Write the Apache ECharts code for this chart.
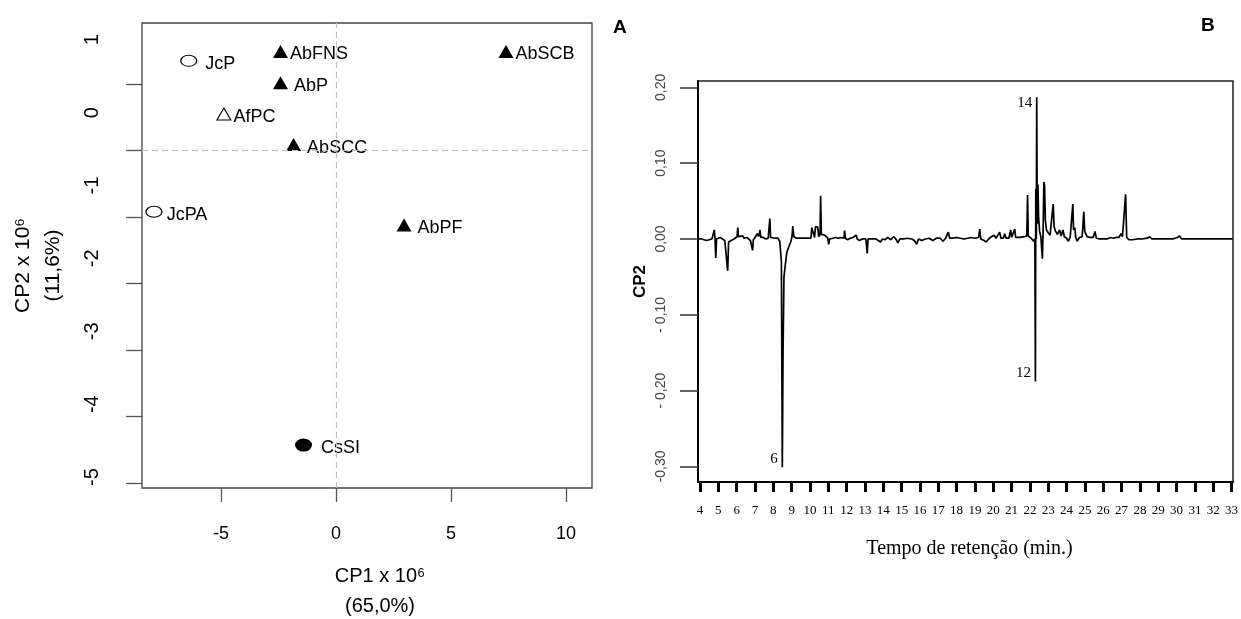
<!DOCTYPE html>
<html>
<head>
<meta charset="utf-8">
<script src="https://cdn.jsdelivr.net/npm/echarts@6/dist/echarts.min.js"></script>
<style>html,body{margin:0;padding:0;background:#fff}#c{width:1241px;height:619px}</style>
</head>
<body>
<div id="c"></div>
<script>
// ---------- Panel A : PCA scores ----------
const filledTriNames = ['AbFNS', 'AbSCB', 'AbP', 'AbSCC', 'AbPF'];
const filledTriCP1 = [-2.41, 7.39, -2.41, -1.84, 2.96];
const filledTriCP2 = [1.49, 1.49, 1.02, 0.09, -1.12];
const openTriNames = ['AfPC'];
const openTriCP1 = [-4.87];
const openTriCP2 = [0.55];
const openEllNames = ['JcP', 'JcPA'];
const openEllCP1 = [-6.40, -7.91];
const openEllCP2 = [1.35, -0.92];
const filledEllNames = ['CsSI'];
const filledEllCP1 = [-1.41];
const filledEllCP2 = [-4.43];
const xTicksA = [-5, 0, 5, 10];
const yTicksA = [1, 0, -1, -2, -3, -4, -5];

// ---------- Panel B : CP2 loadings vs retention time ----------
const retTime = [3.90,4.10,4.20,4.35,4.50,4.65,4.74,4.78,4.82,4.86,4.90,5.00,5.10,5.20,5.35,5.45,5.51,5.56,5.70,5.85,
5.95,6.02,6.06,6.10,6.20,6.33,6.40,6.55,6.65,6.75,6.84,6.87,6.91,7.00,7.12,7.20,7.27,7.32,7.45,7.60,
7.72,7.78,7.81,7.85,7.95,8.10,8.25,8.35,8.44,8.49,8.53,8.58,8.66,8.74,8.85,8.95,9.02,9.06,9.12,9.25,
9.50,9.80,10.05,10.10,10.20,10.25,10.30,10.42,10.48,10.55,10.58,10.62,10.70,10.80,10.90,10.97,11.02,11.07,11.25,11.40,
11.55,11.70,11.85,11.89,11.93,12.05,12.20,12.35,12.52,12.58,12.70,12.85,13.05,13.12,13.17,13.40,13.60,13.85,13.95,14.10,
14.25,14.40,14.58,14.68,14.80,14.90,15.10,15.30,15.55,15.70,15.82,15.92,16.10,16.30,16.50,16.70,16.90,17.10,17.26,17.40,
17.55,17.62,17.80,17.95,18.20,18.40,18.60,18.80,19.00,19.20,19.26,19.32,19.50,19.62,19.75,19.90,20.05,20.15,20.35,20.42,
20.55,20.62,20.70,20.85,20.95,21.00,21.10,21.17,21.22,21.45,21.70,21.83,21.87,21.91,22.00,22.10,22.20,22.27,22.30,22.32,
22.35,22.37,22.40,22.44,22.47,22.53,22.60,22.68,22.72,22.76,22.80,22.84,22.90,23.00,23.10,23.20,23.27,23.32,23.40,23.50,
23.62,23.70,23.80,23.88,24.00,24.10,24.20,24.30,24.34,24.38,24.45,24.50,24.58,24.70,24.85,24.94,24.99,25.05,25.12,25.30,
25.45,25.55,25.62,25.80,26.00,26.20,26.40,26.55,26.70,26.85,26.97,27.05,27.10,27.22,27.28,27.40,27.60,27.85,28.10,28.40,
28.53,28.65,29.00,29.40,29.80,30.05,30.16,30.28,30.60,31.00,31.50,32.00,32.50,33.06];
const cp2Loading = [0.000,0.000,-0.001,-0.002,-0.001,0.000,0.000,0.012,0.000,-0.025,0.000,0.000,0.002,0.000,-0.002,-0.003,-0.042,-0.004,-0.002,0.000,
0.002,0.003,0.015,0.003,0.002,0.004,0.001,0.002,0.000,-0.002,-0.002,-0.015,-0.001,0.002,0.007,0.003,0.012,0.002,0.002,0.000,
0.001,0.001,0.027,0.002,0.001,0.001,0.001,-0.003,-0.030,-0.301,-0.150,-0.050,-0.033,-0.017,-0.010,-0.004,0.003,0.017,0.003,0.001,
0.001,0.001,0.001,0.015,0.015,0.002,0.016,0.016,0.003,0.006,0.057,0.006,0.007,0.005,0.006,0.001,-0.007,0.000,0.001,0.002,
0.001,0.002,0.001,0.011,0.001,-0.001,0.001,0.002,0.005,0.000,-0.002,0.000,0.000,-0.019,0.000,0.000,0.000,-0.004,0.000,-0.001,
0.002,-0.001,0.003,0.000,-0.005,0.000,0.000,0.001,0.000,-0.002,-0.007,0.000,-0.002,0.000,0.001,-0.002,0.001,0.001,-0.003,0.001,
0.009,0.001,0.001,0.002,0.001,0.000,0.001,0.002,0.001,0.002,0.013,0.000,-0.002,-0.004,0.000,0.003,0.005,0.001,0.009,0.001,
0.001,0.007,0.001,0.001,0.012,0.002,0.002,0.013,0.002,0.002,0.003,0.004,0.058,0.004,0.003,0.000,-0.003,0.000,-0.188,0.066,
0.000,0.187,0.020,0.072,0.030,0.010,0.002,-0.026,0.010,0.075,0.070,0.025,0.012,0.008,0.005,0.004,0.046,0.016,0.010,0.006,
0.012,0.004,0.012,0.003,0.001,-0.003,0.003,0.004,0.046,0.012,0.015,0.002,-0.003,0.002,0.003,0.036,0.010,0.009,0.003,0.002,
0.002,0.010,0.001,0.000,0.000,0.000,0.002,0.001,0.002,0.002,0.007,0.003,0.004,0.059,0.002,-0.001,-0.001,0.000,0.000,0.001,
0.003,0.000,0.000,0.000,0.000,0.002,0.004,0.000,0.000,0.000,0.000,0.000,0.000,0.000];
const peakLabels = ['6', '12', '14'];
const peakTimes = [8.49, 22.30, 22.37];
const peakValues = [-0.301, -0.188, 0.187];
const xTicksB = [4,5,6,7,8,9,10,11,12,13,14,15,16,17,18,19,20,21,22,23,24,25,26,27,28,29,30,31,32,33];
const yTicksB = [-0.3, -0.2, -0.1, 0, 0.1, 0.2];
const yTickLabelsB = ['-0,30', '- 0,20', '- 0,10', '0,00', '0,10', '0,20'];

// ---------- chart ----------
const SANS = "'Liberation Sans', Arial, Helvetica, sans-serif";
const SERIF = "'Liberation Serif', 'Times New Roman', serif";
const zip = (a, b) => a.map((v, i) => [v, b[i]]);
const labelGap = {AbFNS: 2, AbSCB: 2, AfPC: 2, AbP: 6, AbSCC: 6, AbPF: 6, JcP: 8, JcPA: 4, CsSI: 9};

function scatterData(names, xs, ys) {
  return names.map((n, i) => ({
    name: n, value: [xs[i], ys[i]],
    label: {distance: labelGap[n] != null ? labelGap[n] : 4}
  }));
}
const ptLabel = {show: true, position: 'right', formatter: '{b}', color: '#000',
  fontFamily: SANS, fontSize: 18, offset: [0, 3]};

const chart = echarts.init(document.getElementById('c'), null, {renderer: 'canvas'});
chart.setOption({
  animation: false,
  backgroundColor: '#fff',
  title: [
    {text: 'A', left: 608, top: 13, textStyle: {fontFamily: SANS, fontWeight: 'bold', fontSize: 19, color: '#000'}},
    {text: 'B', left: 1196, top: 11, textStyle: {fontFamily: SANS, fontWeight: 'bold', fontSize: 19, color: '#000'}}
  ],
  grid: [
    {left: 142, top: 23, width: 450, height: 465, show: true, borderColor: '#444', borderWidth: 1.3,
      backgroundColor: 'transparent', containLabel: false, outerBoundsMode: 'none'},
    {left: 698, top: 81, width: 535, height: 401, show: true, borderColor: '#222', borderWidth: 1.5,
      backgroundColor: 'transparent', containLabel: false, outerBoundsMode: 'none'}
  ],
  xAxis: [
    {
      gridIndex: 0, type: 'value', min: -8.43, max: 11.13,
      axisLine: {show: false, onZero: false},
      axisTick: {show: true, customValues: xTicksA, length: 14, inside: false, lineStyle: {color: '#555', width: 1.3}},
      axisLabel: {customValues: xTicksA, fontFamily: SANS, fontSize: 18, color: '#000', margin: 37},
      splitLine: {show: false},
      name: 'CP1 x 10⁶\n(65,0%)', nameLocation: 'middle', nameGap: 73,
      nameTextStyle: {fontFamily: SANS, fontSize: 20, color: '#000', lineHeight: 30, padding: [0, 0, 0, 26]}
    },
    {
      gridIndex: 1, type: 'value', min: 3.89, max: 33.08,
      axisLine: {show: true, onZero: false, lineStyle: {color: '#000', width: 2}},
      axisTick: {show: true, customValues: xTicksB, length: 10, inside: false, lineStyle: {color: '#000', width: 3}},
      axisLabel: {customValues: xTicksB, fontFamily: SERIF, fontSize: 13, color: '#000', margin: 22, hideOverlap: false},
      splitLine: {show: false},
      name: 'Tempo de retenção (min.)', nameLocation: 'middle', nameGap: 57,
      nameTextStyle: {fontFamily: SERIF, fontSize: 20, color: '#000', padding: [0, 0, 0, 8]}
    }
  ],
  yAxis: [
    {
      gridIndex: 0, type: 'value', min: -5.075, max: 1.919,
      axisLine: {show: false, onZero: false},
      axisTick: {show: true, customValues: yTicksA, length: 16, inside: false, lineStyle: {color: '#555', width: 1.3}},
      axisLabel: {show: false},
      splitLine: {show: false}
    },
    {
      gridIndex: 0, type: 'value', min: -5.15, max: 1.229, position: 'left',
      axisLine: {show: false, onZero: false},
      axisTick: {show: false},
      axisLabel: {customValues: yTicksA, rotate: 90, fontFamily: SANS, fontSize: 20, color: '#000', margin: 40},
      splitLine: {show: false},
      name: 'CP2 x 10⁶\n(11,6%)', nameLocation: 'middle', nameGap: 74, nameRotate: 90,
      nameTextStyle: {fontFamily: SANS, fontSize: 21, color: '#000', lineHeight: 30, padding: [0, 20, 0, 0]}
    },
    {
      gridIndex: 1, type: 'value', min: -0.3206, max: 0.2084,
      axisLine: {show: true, onZero: false, lineStyle: {color: '#000', width: 2}},
      axisTick: {show: true, customValues: yTicksB, length: 18, inside: false, lineStyle: {color: '#333', width: 1.5}},
      axisLabel: {
        customValues: yTicksB, rotate: 90, fontFamily: SANS, fontSize: 14, color: '#444', margin: 30,
        formatter: v => {
          const i = yTicksB.findIndex(t => Math.abs(t - v) < 1e-9);
          return i >= 0 ? yTickLabelsB[i] : '';
        }
      },
      splitLine: {show: false},
      name: 'CP2', nameLocation: 'middle', nameGap: 49, nameRotate: 90,
      nameTextStyle: {fontFamily: SANS, fontSize: 17, fontWeight: 'bold', color: '#000'}
    }
  ],
  series: [
    {
      type: 'scatter', xAxisIndex: 0, yAxisIndex: 0, clip: false,
      symbol: 'triangle', symbolSize: [15, 13],
      itemStyle: {color: '#000', opacity: 1},
      label: ptLabel,
      data: scatterData(filledTriNames, filledTriCP1, filledTriCP2),
      markLine: {
        silent: true, symbol: 'none', label: {show: false},
        lineStyle: {type: [6, 4], color: '#bdbdbd', width: 1.2},
        data: [{xAxis: 0}, {yAxis: 0}]
      }
    },
    {
      type: 'scatter', xAxisIndex: 0, yAxisIndex: 0, clip: false,
      symbol: 'triangle', symbolSize: [14, 12],
      itemStyle: {color: '#fff', borderColor: '#000', borderWidth: 1.1, opacity: 1},
      label: ptLabel,
      data: scatterData(openTriNames, openTriCP1, openTriCP2)
    },
    {
      type: 'scatter', xAxisIndex: 0, yAxisIndex: 0, clip: false,
      symbol: 'circle', symbolSize: [16, 11],
      itemStyle: {color: '#fff', borderColor: '#000', borderWidth: 1.1, opacity: 1},
      label: ptLabel,
      data: scatterData(openEllNames, openEllCP1, openEllCP2)
    },
    {
      type: 'scatter', xAxisIndex: 0, yAxisIndex: 0, clip: false,
      symbol: 'circle', symbolSize: [17, 13],
      itemStyle: {color: '#000', opacity: 1},
      label: ptLabel,
      data: scatterData(filledEllNames, filledEllCP1, filledEllCP2)
    },
    {
      type: 'line', xAxisIndex: 1, yAxisIndex: 2,
      showSymbol: false, symbol: 'none',
      lineStyle: {color: '#000', width: 1.7},
      data: zip(retTime, cp2Loading),
      markPoint: {
        silent: true, symbol: 'rect', symbolSize: 1,
        itemStyle: {color: 'rgba(0,0,0,0)'},
        data: peakLabels.map((lab, i) => ({
          name: lab, coord: [peakTimes[i], peakValues[i]],
          label: {show: true, position: 'left', distance: 4, formatter: '{b}',
            offset: [0, peakValues[i] > 0 ? 6 : -8],
            fontFamily: SERIF, fontSize: 15, color: '#000'}
        }))
      }
    }
  ]
});
</script>
</body>
</html>
